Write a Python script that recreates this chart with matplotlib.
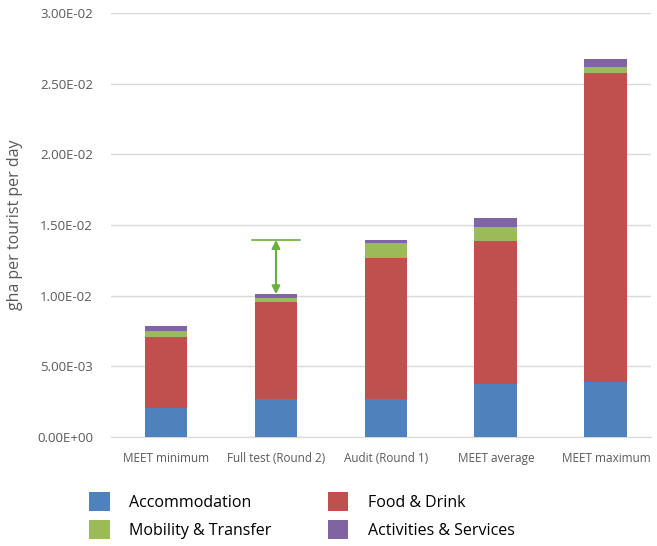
import numpy as np
import matplotlib.pyplot as plt
from matplotlib.ticker import FuncFormatter

plt.rcParams['font.family'] = ['Open Sans', 'DejaVu Sans']

categories = ['MEET minimum', 'Full test (Round 2)', 'Audit (Round 1)', 'MEET average', 'MEET maximum']
accommodation = [2.05e-3, 2.70e-3, 2.70e-3, 3.75e-3, 3.90e-3]
food_drink = [5.03e-3, 6.85e-3, 9.97e-3, 10.12e-3, 21.86e-3]
mobility = [0.42e-3, 0.30e-3, 1.08e-3, 0.99e-3, 0.44e-3]
activities = [0.35e-3, 0.25e-3, 0.19e-3, 0.64e-3, 0.53e-3]

series = [('Accommodation', accommodation, '#4F81BD'),
          ('Food & Drink', food_drink, '#C0504D'),
          ('Mobility & Transfer', mobility, '#9BBB59'),
          ('Activities & Services', activities, '#8064A2')]

fig = plt.figure(figsize=(6.57, 5.46), dpi=100)
ax = fig.add_axes([111/657, 109/546, 540/657, 424/546])

x = np.arange(len(categories))
bottom = np.zeros(len(categories))
handles = {}
for name, vals, col in series:
    b = ax.bar(x, vals, 0.39, bottom=bottom, color=col, label=name, zorder=3)
    handles[name] = b
    bottom += np.array(vals)

# gap between audit and full test
totals = bottom
ax.plot([0.78, 1.22], [totals[2], totals[2]], color='#6AAF3D', lw=1.2, zorder=4)
ax.annotate('', xy=(1, totals[1]), xytext=(1, totals[2]),
            arrowprops=dict(arrowstyle='<|-|>', color='#6AAF3D', lw=1.5,
                            mutation_scale=12, shrinkA=0, shrinkB=0), zorder=4)

ax.set_xlim(-0.5, 4.41)
ax.set_ylim(0, 0.03)
ax.set_yticks(np.arange(0, 0.0301, 0.005))
ax.yaxis.set_major_formatter(FuncFormatter(lambda v, p: f'{v:.2E}'))
ax.set_xticks(x)
ax.set_xticklabels(categories)
ax.tick_params(length=0, colors='#595959')
ax.tick_params(axis='x', labelsize=8.5, pad=11)
ax.tick_params(axis='y', labelsize=9.5, pad=13)
ax.grid(axis='y', color='#D9D9D9', lw=1, zorder=0)
for s in ['top', 'right', 'left']:
    ax.spines[s].set_visible(False)
ax.spines['bottom'].set_color('#D9D9D9')
ax.set_ylabel('gha per tourist per day', fontsize=11.5, color='#595959', labelpad=10)

order = ['Accommodation', 'Mobility & Transfer', 'Food & Drink', 'Activities & Services']
fig.legend([handles[k] for k in order], order, ncol=2, loc='lower left',
           bbox_to_anchor=(75/657, -0.014), frameon=False, fontsize=11.5,
           handlelength=1.3, handleheight=1.5, handletextpad=1.2,
           columnspacing=3.5, labelspacing=0.55)

fig.savefig('out.png', dpi=100)
